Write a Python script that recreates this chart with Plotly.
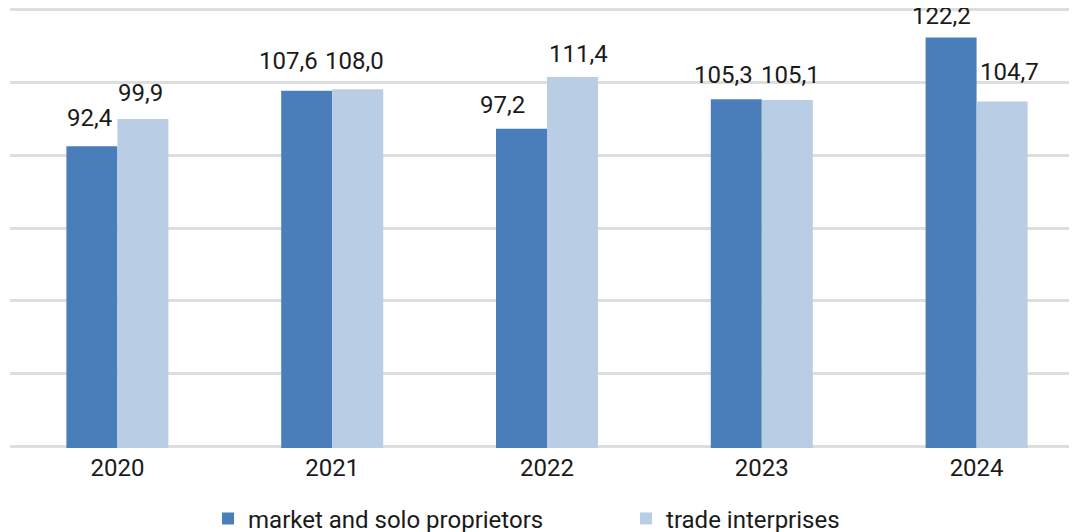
import plotly.graph_objects as go

years = ["2020", "2021", "2022", "2023", "2024"]
market_solo = [92.4, 107.6, 97.2, 105.3, 122.2]
trade = [99.9, 108.0, 111.4, 105.1, 104.7]
series_names = ["market and solo proprietors", "trade interprises"]
colors = ["#4a7ebb", "#b9cde5"]

# label placement tweaks (px) relative to each bar's centre / top
label_dx = {0: [-2.5, -18, -19, -13, -10], 1: [-2, -3, 6, 3, 7]}
label_gap = {0: [18, 19, 13, 14, 10.6], 1: [15, 18, 12.7, 14, 19]}

FONT = "Roboto"
FS = 24
TXT = "#1a1a1a"
fig = go.Figure()
for name, vals, col in zip(series_names, [market_solo, trade], colors):
    fig.add_trace(go.Bar(x=years, y=vals, name=name, marker_color=col,
                         marker_line_width=0))

# the page body adds an 8px offset; margins compensate for it
X_RANGE = [-0.5, 4.5]
L, R, T, B = 2, 1, 0, 92
plot_w = 1077 - L - R
bargap = 0.525
px_per_cat = plot_w / (X_RANGE[1] - X_RANGE[0])
bar_px = px_per_cat * (1 - bargap) / 2

for s, vals in enumerate([market_solo, trade]):
    base = -bar_px / 2 if s == 0 else bar_px / 2
    for i, v in enumerate(vals):
        fig.add_annotation(x=i, y=v, text=f"{v:.1f}".replace(".", ","),
                           showarrow=False, xshift=base + label_dx[s][i],
                           yshift=label_gap[s][i] - 5.5,
                           yanchor="bottom", xanchor="center",
                           font=dict(family=FONT, size=FS, color=TXT))

fig.update_layout(
    width=1077, height=532,
    margin=dict(l=L, r=R, t=T, b=B, autoexpand=False),
    plot_bgcolor="white", paper_bgcolor="white",
    barmode="group", bargap=bargap, bargroupgap=0,
    font=dict(family=FONT, size=FS, color=TXT),
    showlegend=True,
    legend=dict(orientation="h", x=0.1844, xanchor="left", y=-0.161,
                yanchor="middle", font=dict(family=FONT, size=FS, color=TXT),
                entrywidth=373, itemsizing="constant"),
    xaxis=dict(type="category", range=X_RANGE, showgrid=False, automargin=False,
               ticks="", showline=False, ticklabelstandoff=3,
               tickfont=dict(family=FONT, size=FS, color=TXT)),
    yaxis=dict(range=[9.7, 130.3], dtick=20, tick0=10, showticklabels=False,
               showgrid=True, gridcolor="#dedede", gridwidth=2.5, zeroline=False,
               showline=False, automargin=False),
)
fig.write_html("out.html")
